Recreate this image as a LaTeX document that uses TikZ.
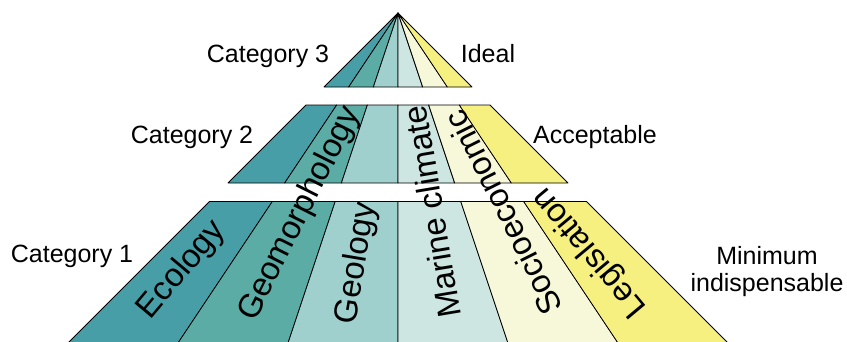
\documentclass[tikz,border=0pt]{standalone}
\usepackage{fontspec}
\setmainfont{Liberation Sans}
\definecolor{cA}{HTML}{489EA7}
\definecolor{cB}{HTML}{5BACA4}
\definecolor{cC}{HTML}{A0D0CE}
\definecolor{cD}{HTML}{CDE6E1}
\definecolor{cE}{HTML}{F7F7DA}
\definecolor{cF}{HTML}{F6F080}
\begin{document}
\begin{tikzpicture}[x=1pt,y=-1pt,
  wedge/.style={draw=black,line width=0.8pt,line join=round},
  lbl/.style={font=\fontsize{25}{27}\selectfont,inner sep=0pt,anchor=base},
  wlbl/.style={font=\fontsize{33}{36}\selectfont,inner sep=0pt}]
\clip (0,0) rectangle (847,341);
\fill[white] (0,0) rectangle (847,341);
\foreach \ya/\yb in {13/87,105/183,201.5/345}{
  \foreach \fa/\fb/\c in {-1/-0.6667/cA,-0.6667/-0.3333/cB,-0.3333/0/cC,0/0.3333/cD,0.3333/0.6667/cE,0.6667/1/cF}{
    \filldraw[wedge,fill=\c] ({398+\fa*(\ya-13)},\ya) -- ({398+\fb*(\ya-13)},\ya)
      -- ({398+\fb*(\yb-13)},\yb) -- ({398+\fa*(\yb-13)},\yb) -- cycle;
  }
}
% band labels
\node[lbl] (c3) at (268,62) {Category 3};
\node[lbl] (ideal) at (488,62) {Ideal};
\node[lbl] (c2) at (192,143) {Category 2};
\node[lbl] (acc) at (595,143) {Acceptable};
\node[lbl] (c1) at (72,262) {Category 1};
\node[font=\fontsize{25}{27}\selectfont,inner sep=0pt,align=center] (mini) at (767,272) {Minimum\\indispensable};
% wedge labels
\node[wlbl,rotate=50] (eco) at (182,270) {Ecology};
\node[wlbl,rotate=63.4] (geom) at (300,214) {Geomorphology};
\node[wlbl,rotate=80.5] (geol) at (357,263) {Geology};
\node[wlbl,rotate=99.5] (mar) at (432,212) {Marine climate};
\node[wlbl,rotate=116.6] (soc) at (503,213) {Socioeconomic};
\node[wlbl,rotate=129.8] (leg) at (590,252) {Legislation};
\end{tikzpicture}
\end{document}
